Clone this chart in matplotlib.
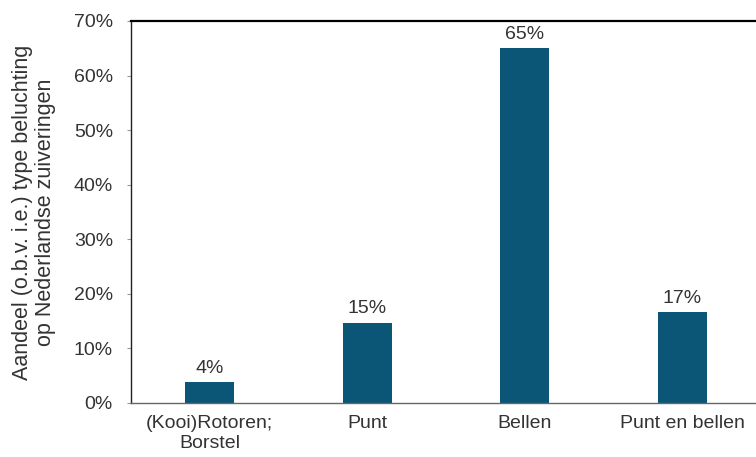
import matplotlib.pyplot as plt

plt.rcParams['font.family'] = ['Liberation Sans', 'DejaVu Sans']

# beluchtingstypen en aandeel (%)
categorieen = ['(Kooi)Rotoren;\nBorstel', 'Punt', 'Bellen', 'Punt en bellen']
aandeel = [3.8, 14.7, 65.0, 16.6]
yticks = [0, 10, 20, 30, 40, 50, 60, 70]

fig = plt.figure(figsize=(7.56, 4.57), dpi=100)
ax = fig.add_axes([0.1733, 0.1182, 0.8333, 0.836])

x = range(len(categorieen))
ax.bar(x, aandeel, width=0.31, color='#0b5677')

for xi, v in zip(x, aandeel):
    ax.annotate('%.0f%%' % v, (xi, v), xytext=(0, 4), textcoords='offset points',
                ha='center', va='bottom', fontsize=14, color='#333333')

ax.set_xlim(-0.5, 3.5)
ax.set_ylim(0, 70)
ax.set_yticks(yticks)
ax.set_yticklabels(['%d%%' % t for t in yticks])
ax.set_xticks(list(x))
ax.set_xticklabels(categorieen)

ax.tick_params(axis='y', length=3, color='#999999', pad=10, labelsize=14, labelcolor='#333333')
ax.tick_params(axis='x', length=0, pad=9, labelsize=14, labelcolor='#333333')

ax.set_ylabel('Aandeel (o.b.v. i.e.) type beluchting\nop Nederlandse zuiveringen',
              fontsize=15.5, color='#333333', linespacing=1.15)
ax.yaxis.set_label_coords(-0.119, 0.5)

ax.spines['right'].set_visible(False)
ax.spines['top'].set_linewidth(1.6)
ax.spines['top'].set_color('black')
ax.spines['left'].set_color('#222222')
ax.spines['left'].set_linewidth(1.0)
ax.spines['bottom'].set_color('#666666')
ax.spines['bottom'].set_linewidth(1.0)

fig.savefig('out.png', dpi=100)
